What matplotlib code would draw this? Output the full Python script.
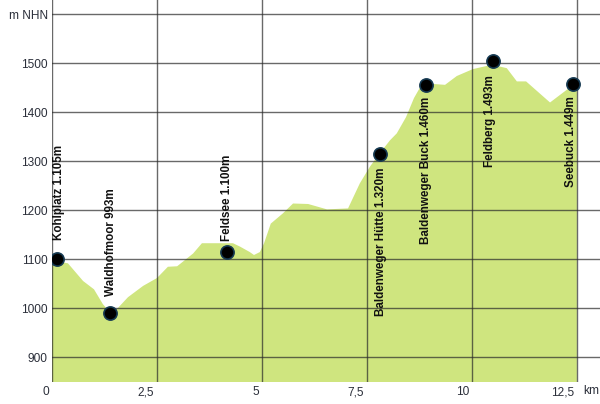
import numpy as np
import matplotlib
matplotlib.use("Agg")
import matplotlib.pyplot as plt
from matplotlib.transforms import ScaledTranslation

# HOEHENPROFIL (km, m NHN)
distKm = [0.0, 0.19, 0.38, 0.74, 1.00, 1.21, 1.38, 1.57, 1.81, 2.17, 2.50, 2.76, 2.98,
          3.36, 3.57, 4.00, 4.31, 4.48, 4.71, 4.81, 4.95, 5.05, 5.21, 5.50, 5.74, 6.10,
          6.55, 7.05, 7.33, 7.57, 7.81, 8.05, 8.21, 8.43, 8.62, 8.76, 8.88, 9.36, 9.64,
          10.02, 10.48, 10.83, 11.07, 11.29, 11.86, 12.26, 12.50]
hoehe = [1101, 1095, 1092, 1056, 1039, 1009, 992, 1001, 1023, 1046, 1062, 1085, 1086,
         1112, 1133, 1133, 1133, 1126, 1115, 1109, 1115, 1133, 1173, 1194, 1214, 1213,
         1202, 1204, 1255, 1289, 1317, 1343, 1357, 1390, 1429, 1450, 1459, 1456, 1474,
         1488, 1497, 1490, 1463, 1463, 1420, 1446, 1459]

# WEGPUNKTE
punktNamen = ["Kohlplatz 1.105m", "Waldhofmoor 993m", "Feldsee 1.100m",
              "Baldenweger Hütte 1.320m", "Baldenweger Buck 1.460m",
              "Feldberg 1.493m", "Seebuck 1.449m"]
punktKm = [0.11, 1.38, 4.16, 7.81, 8.90, 10.51, 12.41]
punktHoehe = [1100, 991, 1115, 1315, 1456, 1504, 1457]

# ACHSEN
xTicks = [0, 2.5, 5, 7.5, 10, 12.5]
xTickLabels = ["0", "2,5", "5", "7,5", "10", "12,5"]
yTicks = [900, 1000, 1100, 1200, 1300, 1400, 1500, 1600]
yTickLabels = ["900", "1000", "1100", "1200", "1300", "1400", "1500", "m NHN"]

# label offsets in pixel (dx, dy), positive dy = up
labelOffset = [(2, 19), (1, 17), (0, 11), (1, -14), (0, -12), (-3, -14), (-2, -12)]

fig = plt.figure(figsize=(6.0, 4.04), dpi=100)
ax = fig.add_axes([52/600, 22/404, 548/600, 382/404])

ax.fill_between(distKm, 0, hoehe, color="#cfe57f", linewidth=0, zorder=1)
ax.plot(punktKm, punktHoehe, "o", markersize=9.5, markerfacecolor="black",
        markeredgecolor="#163a52", markeredgewidth=1.2, zorder=4)

pt = 72/100
for i in range(len(punktNamen)):
    dx, dy = labelOffset[i]
    if dy > 0:
        va = "bottom"
    else:
        va = "top"
    ax.annotate(punktNamen[i], (punktKm[i], punktHoehe[i]),
                xytext=(dx*pt, dy*pt), textcoords="offset points",
                rotation=90, ha="center", va=va, fontsize=8.4,
                fontweight="bold", family="Liberation Sans", color="#111111",
                zorder=5)

ax.set_xlim(0, 13.05)
ax.set_ylim(850, 1629)
ax.set_xticks(xTicks)
ax.set_xticklabels(xTickLabels)
ax.set_yticks(yTicks)
ax.set_yticklabels(yTickLabels)

ax.set_axisbelow(False)
ax.grid(True, color="#2a2a2a", alpha=0.7, linewidth=1.0)
ax.tick_params(length=0, labelsize=8.6, labelcolor="#2b2f3a", pad=3)
for lab in ax.get_yticklabels() + ax.get_xticklabels():
    lab.set_family("Liberation Sans")
for lab in ax.get_xticklabels():
    lab.set_ha("right")
    lab.set_transform(lab.get_transform() + ScaledTranslation(-3/100, 0, fig.dpi_scale_trans))
for s in ax.spines.values():
    s.set_visible(False)

fig.text(583/600, 1 - 391/404, "km", ha="left", va="center", fontsize=8.6,
         family="Liberation Sans", color="#2b2f3a")

fig.savefig("out.png", dpi=100)
